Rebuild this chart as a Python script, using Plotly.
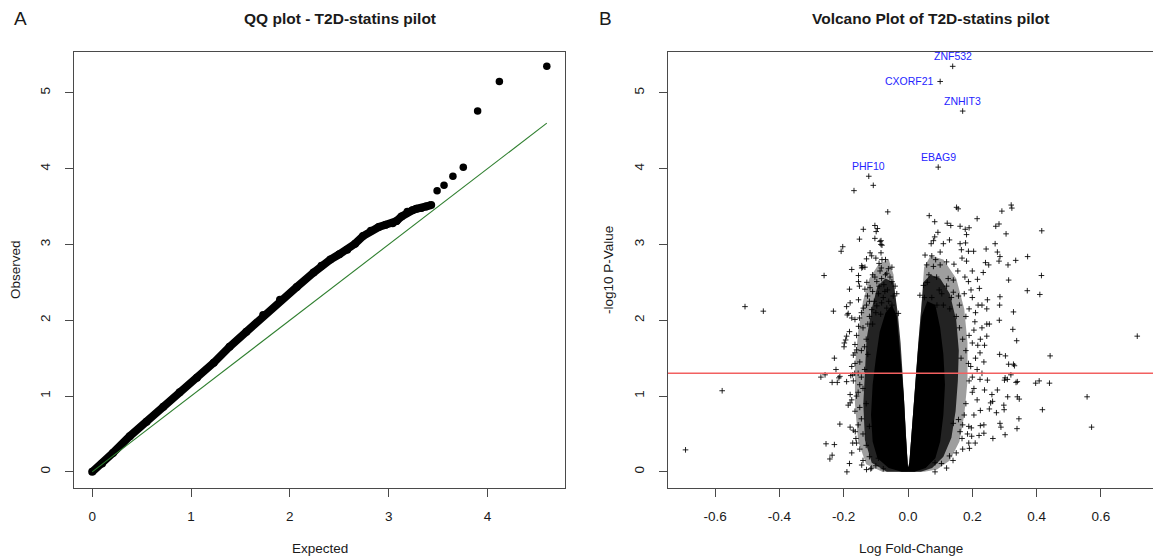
import math
import plotly.graph_objects as go

FIG_W, FIG_H = 1153, 560

# ---------------- QQ plot data ----------------
qq_expected = [0.00, 0.10, 0.21, 0.38, 0.55, 0.72, 0.885, 1.06, 1.23, 1.39, 1.56, 1.73, 1.90,
               2.07, 2.24, 2.32, 2.41, 2.50, 2.58, 2.66, 2.74, 2.82, 2.90, 2.97, 3.04, 3.08,
               3.13, 3.19, 3.24, 3.28, 3.33, 3.38, 3.43]
qq_observed = [0.00, 0.11, 0.25, 0.47, 0.66, 0.86, 1.05, 1.24, 1.44, 1.65, 1.85, 2.07, 2.27,
               2.44, 2.63, 2.72, 2.80, 2.87, 2.93, 3.01, 3.11, 3.18, 3.23, 3.26, 3.28, 3.31,
               3.37, 3.43, 3.45, 3.47, 3.48, 3.50, 3.52]
qq_tail_expected = [3.49, 3.56, 3.65, 3.755, 3.90, 4.12, 4.60]
qq_tail_observed = [3.71, 3.78, 3.90, 4.02, 4.76, 5.15, 5.35]
qq_reference_line = [0.0, 4.60]
qq_x_ticks = [0, 1, 2, 3, 4]
y_ticks = [0, 1, 2, 3, 4, 5]

# ---------------- Volcano data ----------------
labeled_genes = ["ZNF532", "CXORF21", "ZNHIT3", "EBAG9", "PHF10"]
labeled_logfc = [0.139, 0.100, 0.170, 0.094, -0.122]
labeled_neglogp = [5.35, 5.15, 4.76, 4.02, 3.90]

volcano_left_points = [
    (-0.692, 0.29), (-0.578, 1.07), (-0.507, 2.18), (-0.450, 2.12),
    (-0.261, 2.59), (-0.232, 2.12), (-0.271, 1.25), (-0.258, 1.28), (-0.236, 1.18),
    (-0.220, 1.18), (-0.215, 1.24), (-0.229, 1.50), (-0.224, 1.35), (-0.212, 0.63),
    (-0.255, 0.37), (-0.229, 0.36), (-0.243, 0.17), (-0.236, 0.22), (-0.190, 0.00),
    (-0.182, 0.11), (-0.208, 2.91), (-0.203, 2.97), (-0.168, 3.71), (-0.108, 3.78),
    (-0.063, 3.43), (-0.103, 3.25), (-0.095, 3.21), (-0.099, 3.17), (-0.139, 3.20),
    (-0.151, 3.07), (-0.103, 3.08), (-0.084, 3.05), (-0.081, 2.99), (-0.118, 2.89),
    (-0.113, 2.85), (-0.100, 2.82), (-0.084, 2.89), (-0.081, 2.80), (-0.129, 2.81),
    (-0.141, 2.70), (-0.144, 2.69), (-0.175, 2.67), (-0.061, 2.68), (-0.066, 2.62),
    (-0.087, 2.65), (-0.154, 2.59), (-0.154, 2.51), (-0.103, 2.57), (-0.097, 2.51),
    (-0.082, 2.55), (-0.056, 2.57), (-0.050, 2.51), (-0.182, 2.41), (-0.134, 2.41),
    (-0.118, 2.43), (-0.110, 2.38), (-0.126, 2.32), (-0.092, 2.35), (-0.072, 2.38),
    (-0.064, 2.40), (-0.077, 2.30), (-0.046, 2.32), (-0.035, 2.35), (-0.154, 2.27),
    (-0.191, 2.18), (-0.189, 2.07), (-0.139, 2.16), (-0.129, 2.20), (-0.113, 2.14),
    (-0.097, 2.19), (-0.082, 2.23), (-0.066, 2.16), (-0.043, 2.09), (-0.030, 2.09),
    (-0.175, 2.03), (-0.165, 2.01), (-0.151, 2.03), (-0.198, 1.70), (-0.191, 1.79),
    (-0.182, 1.85), (-0.165, 1.68), (-0.160, 1.61), (-0.170, 1.54), (-0.212, 1.26),
    (-0.191, 1.19), (-0.172, 1.28), (-0.165, 1.43), (-0.175, 1.39), (-0.180, 1.02),
    (-0.175, 0.95), (-0.186, 0.88), (-0.180, 0.59), (-0.170, 0.55), (-0.162, 0.44),
    (-0.172, 0.38), (-0.175, 0.25), (-0.144, 0.09), (-0.129, 0.03), (-0.113, 0.05),
    (-0.092, 0.18), (-0.077, 0.04), (-0.154, 1.92), (-0.194, 1.74), (-0.199, 1.65),
    (-0.165, 1.57), (-0.178, 1.27), (-0.166, 1.30), (-0.180, 0.91), (-0.164, 0.53),
    (-0.160, 0.38), (-0.116, 0.04), (-0.180, 2.23), (-0.186, 2.09), (-0.151, 2.45),
    (-0.144, 2.72), (-0.134, 2.70), (-0.083, 2.69), (-0.087, 3.04), (-0.084, 3.00),
    (-0.140, 1.90), (-0.130, 1.75), (-0.145, 1.60), (-0.150, 1.45), (-0.155, 1.30),
    (-0.150, 1.15), (-0.160, 1.00), (-0.150, 0.85), (-0.145, 0.70), (-0.140, 0.50),
    (-0.130, 0.35), (-0.120, 0.20), (-0.110, 1.95), (-0.120, 2.05), (-0.100, 2.10),
    (-0.085, 2.08), (-0.125, 1.55), (-0.135, 1.35), (-0.140, 1.10), (-0.130, 0.90),
    (-0.120, 0.60), (-0.105, 2.25), (-0.090, 2.45), (-0.075, 2.47), (-0.060, 2.25),
    (-0.050, 2.20), (-0.120, 2.25), (-0.145, 2.10), (-0.160, 1.80), (-0.170, 1.20),
    (-0.165, 0.80), (-0.155, 0.62), (-0.150, 0.30), (-0.140, 0.15), (-0.100, 0.08),
    (-0.155, 1.05), (-0.145, 1.25), (-0.135, 1.65), (-0.125, 1.95), (-0.070, 2.60),
    (-0.040, 2.45), (-0.110, 2.60), (-0.128, 2.50), (-0.090, 2.75), (-0.070, 2.80),
    (-0.050, 2.70),
]

volcano_right_points = [
    (0.151, 3.49), (0.156, 3.47), (0.321, 3.52), (0.323, 3.48), (0.292, 3.44),
    (0.066, 3.38), (0.215, 3.34), (0.083, 3.30), (0.122, 3.28), (0.133, 3.25),
    (0.283, 3.27), (0.273, 3.24), (0.162, 3.24), (0.178, 3.20), (0.190, 3.22),
    (0.416, 3.18), (0.305, 3.14), (0.093, 3.16), (0.083, 3.10), (0.182, 3.13),
    (0.129, 3.06), (0.110, 3.01), (0.072, 3.01), (0.079, 3.05), (0.162, 3.01),
    (0.179, 3.02), (0.271, 3.01), (0.243, 2.94), (0.278, 2.90), (0.166, 2.93),
    (0.188, 2.91), (0.204, 2.91), (0.100, 2.90), (0.053, 2.86), (0.074, 2.85),
    (0.086, 2.80), (0.372, 2.84), (0.335, 2.79), (0.286, 2.84), (0.283, 2.78),
    (0.241, 2.76), (0.251, 2.73), (0.311, 2.73), (0.182, 2.78), (0.168, 2.82),
    (0.120, 2.77), (0.143, 2.74), (0.100, 2.73), (0.079, 2.71), (0.058, 2.73),
    (0.234, 2.63), (0.415, 2.59), (0.216, 2.54), (0.313, 2.53), (0.065, 2.60),
    (0.089, 2.57), (0.125, 2.55), (0.141, 2.53), (0.177, 2.57), (0.188, 2.51),
    (0.222, 2.42), (0.196, 2.40), (0.371, 2.39), (0.410, 2.34), (0.286, 2.31),
    (0.247, 2.27), (0.218, 2.20), (0.048, 2.46), (0.037, 2.33), (0.051, 2.30),
    (0.074, 2.30), (0.097, 2.40), (0.120, 2.45), (0.141, 2.37), (0.157, 2.32),
    (0.285, 2.20), (0.245, 2.15), (0.328, 2.11), (0.284, 2.00), (0.245, 1.95),
    (0.253, 1.95), (0.326, 1.88), (0.208, 1.98), (0.205, 1.87), (0.713, 1.79),
    (0.338, 1.73), (0.245, 1.79), (0.238, 1.67), (0.217, 1.67), (0.224, 1.57),
    (0.285, 1.55), (0.303, 1.53), (0.442, 1.53), (0.313, 1.42), (0.328, 1.42),
    (0.331, 1.40), (0.236, 1.45), (0.188, 1.43), (0.195, 1.39), (0.320, 1.28),
    (0.230, 1.30), (0.302, 1.24), (0.300, 1.21), (0.309, 1.22), (0.247, 1.21),
    (0.224, 1.22), (0.340, 1.19), (0.336, 1.18), (0.397, 1.17), (0.408, 1.20),
    (0.440, 1.17), (0.278, 1.08), (0.261, 1.02), (0.238, 1.08), (0.310, 0.99),
    (0.340, 0.99), (0.346, 0.96), (0.557, 0.99), (0.263, 0.93), (0.257, 0.91),
    (0.298, 0.88), (0.299, 0.82), (0.225, 0.81), (0.253, 0.83), (0.418, 0.82),
    (0.275, 0.78), (0.345, 0.70), (0.286, 0.64), (0.289, 0.59), (0.339, 0.57),
    (0.571, 0.59), (0.236, 0.62), (0.225, 0.61), (0.197, 0.58), (0.189, 0.60),
    (0.302, 0.49), (0.264, 0.44), (0.221, 0.48), (0.236, 0.51), (0.198, 0.47),
    (0.209, 0.38), (0.189, 0.38), (0.191, 0.31), (0.129, 0.21), (0.084, 0.12),
    (0.104, 0.11), (0.084, 0.00), (0.162, 0.53), (0.157, 0.69), (0.141, 0.64),
    (0.168, 0.44), (0.170, 1.75), (0.180, 1.60), (0.160, 1.90), (0.150, 2.05),
    (0.190, 1.20), (0.200, 1.05), (0.180, 0.90), (0.175, 0.75), (0.165, 1.50),
    (0.200, 1.70), (0.210, 1.50), (0.190, 1.80), (0.205, 1.10), (0.215, 0.95),
    (0.170, 0.30), (0.150, 0.25), (0.140, 0.15), (0.120, 0.05), (0.110, 2.20),
    (0.090, 2.20), (0.130, 2.15), (0.060, 2.50), (0.105, 2.35), (0.135, 2.30),
    (0.160, 2.20), (0.180, 2.05), (0.190, 2.15), (0.200, 2.30), (0.210, 2.10),
    (0.175, 2.35), (0.155, 2.65), (0.200, 2.65), (0.230, 2.20), (0.230, 1.90),
    (0.225, 1.75), (0.200, 1.25), (0.215, 1.35), (0.205, 0.75), (0.185, 0.50),
    (0.170, 0.62),
]

# outlines of the over-plotted (dense) parts of the volcano
sparse_left_outline = [(-0.080, 0.0), (-0.130, 0.10), (-0.155, 0.40), (-0.165, 0.90),
                       (-0.165, 1.40), (-0.155, 1.85), (-0.140, 2.25), (-0.120, 2.55),
                       (-0.090, 2.75), (-0.060, 2.80), (-0.045, 2.60), (-0.036, 2.20),
                       (-0.027, 1.80), (-0.018, 1.30), (-0.013, 1.00), (-0.007, 0.50),
                       (-0.002, 0.10), (0.0, 0.0)]
sparse_right_outline = [(0.0, 0.0), (0.004, 0.10), (0.011, 0.50), (0.019, 1.00),
                        (0.025, 1.30), (0.034, 1.80), (0.042, 2.20), (0.050, 2.70),
                        (0.070, 2.85), (0.110, 2.80), (0.150, 2.55), (0.175, 2.15),
                        (0.185, 1.70), (0.185, 1.20), (0.175, 0.75), (0.160, 0.40),
                        (0.130, 0.15), (0.090, 0.03), (0.050, 0.0)]
dense_left_outline = [(-0.066, 0.0), (-0.113, 0.12), (-0.134, 0.42), (-0.139, 0.90),
                      (-0.134, 1.30), (-0.129, 1.75), (-0.113, 2.15), (-0.095, 2.45),
                      (-0.070, 2.55), (-0.045, 2.50), (-0.032, 2.10), (-0.023, 1.70),
                      (-0.017, 1.30), (-0.013, 1.00), (-0.007, 0.50), (-0.002, 0.10),
                      (0.0, 0.0)]
dense_right_outline = [(0.0, 0.0), (0.004, 0.10), (0.011, 0.50), (0.019, 1.00),
                       (0.025, 1.30), (0.032, 1.70), (0.040, 2.10), (0.048, 2.50),
                       (0.070, 2.60), (0.100, 2.55), (0.130, 2.35), (0.150, 2.00),
                       (0.158, 1.60), (0.155, 1.20), (0.148, 0.80), (0.135, 0.45),
                       (0.110, 0.20), (0.075, 0.05), (0.040, 0.0)]
solid_core_outline = [(-0.020, 0.0), (-0.060, 0.05), (-0.095, 0.18), (-0.110, 0.40),
                      (-0.115, 0.75), (-0.110, 1.15), (-0.100, 1.50), (-0.088, 1.85),
                      (-0.070, 2.10), (-0.050, 2.20), (-0.035, 2.05), (-0.025, 1.60),
                      (-0.018, 1.30), (-0.013, 1.00), (-0.007, 0.50), (-0.002, 0.12),
                      (0.0, 0.06), (0.004, 0.12), (0.011, 0.50), (0.019, 1.00),
                      (0.025, 1.30), (0.031, 1.60), (0.042, 2.05), (0.060, 2.25),
                      (0.085, 2.20), (0.100, 1.90), (0.110, 1.55), (0.115, 1.15),
                      (0.110, 0.75), (0.100, 0.40), (0.085, 0.18), (0.055, 0.05),
                      (0.020, 0.0)]

p_value_cutoff = 0.05
volcano_x_ticks = [-0.6, -0.4, -0.2, 0.0, 0.2, 0.4, 0.6]
volcano_x_ticklabels = ["-0.6", "-0.4", "-0.2", "0.0", "0.2", "0.4", "0.6"]

# ---------------- layout geometry (pixels) ----------------
def fx(p):
    return p / FIG_W

def fy(p):
    return 1 - p / FIG_H

FONT = "Liberation Sans, Arial, Helvetica, sans-serif"
AX_COL = "#4a4a4a"
TXT_COL = "#1a1a1a"

fig = go.Figure()

# QQ: dense part of the curve
fig.add_trace(go.Scatter(
    x=qq_expected, y=qq_observed, mode="lines+markers",
    line=dict(color="black", width=8),
    marker=dict(color="black", size=8),
    xaxis="x", yaxis="y", showlegend=False, hoverinfo="skip"))
# QQ: y = x reference
fig.add_trace(go.Scatter(
    x=qq_reference_line, y=qq_reference_line, mode="lines",
    line=dict(color="#2f7f2f", width=1.1),
    xaxis="x", yaxis="y", showlegend=False, hoverinfo="skip"))
# QQ: tail points
fig.add_trace(go.Scatter(
    x=qq_tail_expected, y=qq_tail_observed, mode="markers",
    marker=dict(color="black", size=7.5),
    xaxis="x", yaxis="y", showlegend=False, hoverinfo="skip"))

# Volcano: over-plotted regions
for outline, col in [(sparse_left_outline, "rgba(0,0,0,0.38)"),
                     (sparse_right_outline, "rgba(0,0,0,0.38)"),
                     (dense_left_outline, "rgba(0,0,0,0.78)"),
                     (dense_right_outline, "rgba(0,0,0,0.78)"),
                     (solid_core_outline, "rgba(0,0,0,1)")]:
    fig.add_trace(go.Scatter(
        x=[p[0] for p in outline], y=[p[1] for p in outline],
        mode="lines", fill="toself", fillcolor=col, line=dict(width=0, color=col),
        xaxis="x2", yaxis="y2", showlegend=False, hoverinfo="skip"))

pts = volcano_left_points + volcano_right_points
fig.add_trace(go.Scatter(
    x=[p[0] for p in pts] + labeled_logfc,
    y=[p[1] for p in pts] + labeled_neglogp,
    mode="markers",
    marker=dict(symbol="cross-thin", size=4, color="black",
                line=dict(width=1, color="rgba(0,0,0,0.85)")),
    xaxis="x2", yaxis="y2", showlegend=False, hoverinfo="skip"))

common_axis = dict(showgrid=False, zeroline=False, showline=True, linecolor=AX_COL,
                   linewidth=1, ticks="outside", ticklen=8, tickcolor=AX_COL,
                   tickwidth=1, automargin=False,
                   tickfont=dict(family=FONT, size=13.5, color=TXT_COL))

fig.update_layout(
    width=FIG_W, height=FIG_H,
    margin=dict(l=0, r=0, t=0, b=0, autoexpand=False),
    paper_bgcolor="white", plot_bgcolor="white",
    font=dict(family=FONT, color=TXT_COL),
    xaxis=dict(common_axis, domain=[fx(74), fx(565)], range=[-0.184, 4.784],
               tickvals=qq_x_ticks, mirror=True, anchor="y", ticklabelstandoff=8),
    yaxis=dict(common_axis, domain=[fy(488), fy(51.7)], range=[-0.213, 5.543],
               tickvals=y_ticks, tickangle=-90, mirror=True, anchor="x",
               ticklabelstandoff=10),
    xaxis2=dict(common_axis, domain=[fx(668), 1.0], range=[-0.7465, 0.762],
                tickvals=volcano_x_ticks, ticktext=volcano_x_ticklabels,
                mirror=True, anchor="y2", ticklabelstandoff=8),
    yaxis2=dict(common_axis, domain=[fy(488), fy(51.7)], range=[-0.213, 5.543],
                tickvals=y_ticks, tickangle=-90, mirror=False, anchor="x2",
                ticklabelstandoff=10),
)

cut_y = -math.log10(p_value_cutoff)
fig.add_shape(type="line", xref="x2 domain", yref="y2", x0=0, x1=1, y0=cut_y, y1=cut_y,
              line=dict(color="#f26060", width=1.4))

ann = []
ann.append(dict(text="A", x=fx(20), y=fy(19), xref="paper", yref="paper", showarrow=False,
                font=dict(size=19, family=FONT, color=TXT_COL), xanchor="center", yanchor="middle"))
ann.append(dict(text="B", x=fx(605), y=fy(19), xref="paper", yref="paper", showarrow=False,
                font=dict(size=19, family=FONT, color=TXT_COL), xanchor="center", yanchor="middle"))
ann.append(dict(text="<b>QQ plot - T2D-statins pilot</b>", x=fx(340), y=fy(19), xref="paper",
                yref="paper", showarrow=False, font=dict(size=15.5, family=FONT, color=TXT_COL),
                xanchor="center", yanchor="middle"))
ann.append(dict(text="<b>Volcano Plot of T2D-statins pilot</b>", x=fx(930), y=fy(19),
                xref="paper", yref="paper", showarrow=False,
                font=dict(size=15.5, family=FONT, color=TXT_COL),
                xanchor="center", yanchor="middle"))
ann.append(dict(text="Expected", x=fx(320), y=fy(548), xref="paper", yref="paper",
                showarrow=False, font=dict(size=13.5, family=FONT, color=TXT_COL),
                xanchor="center", yanchor="middle"))
ann.append(dict(text="Observed", x=fx(15), y=fy(270), xref="paper", yref="paper",
                showarrow=False, textangle=-90, font=dict(size=13.5, family=FONT, color=TXT_COL),
                xanchor="center", yanchor="middle"))
ann.append(dict(text="Log Fold-Change", x=fx(911), y=fy(548), xref="paper", yref="paper",
                showarrow=False, font=dict(size=13.5, family=FONT, color=TXT_COL),
                xanchor="center", yanchor="middle"))
ann.append(dict(text="-log10 P-Value", x=fx(608), y=fy(270), xref="paper", yref="paper",
                showarrow=False, textangle=-90, font=dict(size=13.5, family=FONT, color=TXT_COL),
                xanchor="center", yanchor="middle"))
for g, xv, yv in zip(labeled_genes, labeled_logfc, labeled_neglogp):
    if g == "CXORF21":
        ann.append(dict(text=g, x=xv, y=yv, xref="x2", yref="y2", showarrow=False,
                        xanchor="right", yanchor="middle", xshift=-4,
                        font=dict(size=10.5, family=FONT, color="#2525ff")))
    else:
        ann.append(dict(text=g, x=xv, y=yv, xref="x2", yref="y2", showarrow=False,
                        xanchor="center", yanchor="middle", yshift=10,
                        font=dict(size=10.5, family=FONT, color="#2525ff")))
fig.update_layout(annotations=ann)

fig.write_html("out.html", config={"displayModeBar": False},
               post_script="document.body.style.margin='0px';")
